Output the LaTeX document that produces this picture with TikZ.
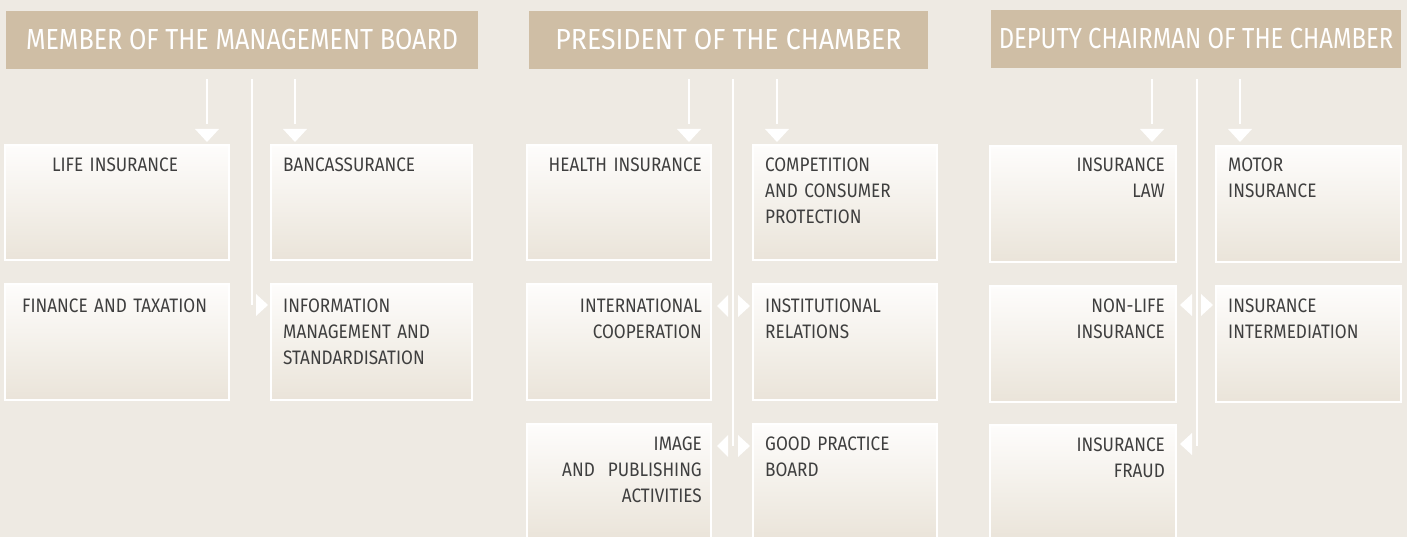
\documentclass[tikz,border=0pt]{standalone}
\usepackage{fontspec}
\setmainfont{Fira Sans}
\newfontfamily\bodyfont[FakeStretch=0.88]{Fira Sans}
\newfontfamily\headfont[FakeStretch=0.88]{Fira Sans}
\usetikzlibrary{calc}
\definecolor{bg}{HTML}{EEEAE3}
\definecolor{hdr}{HTML}{CFBEA5}
\definecolor{txt}{HTML}{3F3F3F}
\definecolor{sA}{HTML}{E2D9CB}
\definecolor{sB}{HTML}{E6DED2}
\definecolor{sC}{HTML}{EEE9E0}
\definecolor{sD}{HTML}{F6F3EE}
\definecolor{sE}{HTML}{FEFDFC}
\definecolor{sF}{HTML}{F3EFE8}
\definecolor{sG}{HTML}{E3DBCE}
\pgfdeclareverticalshading{boxshade}{100bp}{color(0bp)=(sA); color(15bp)=(sB); color(35bp)=(sC); color(55bp)=(sD); color(75bp)=(sE); color(82bp)=(white); color(92bp)=(sF); color(100bp)=(sG)}
\tikzset{
  unitbox/.style={draw=white, line width=2pt, shading=boxshade, inner sep=0pt, outer sep=0pt},
  hdrbox/.style={fill=hdr, inner sep=0pt, text=white, font=\headfont\fontsize{29}{34}\selectfont},
  ltxt/.style={anchor=base west, text width=190pt, align=left, inner sep=0pt, text=txt, font=\bodyfont\fontsize{19.5}{26}\selectfont},
  rtxt/.style={anchor=base east, text width=190pt, align=right, inner sep=0pt, text=txt, font=\bodyfont\fontsize{19.5}{26}\selectfont},
  ctxt/.style={anchor=base, text width=200pt, align=center, inner sep=0pt, text=txt, font=\bodyfont\fontsize{19.5}{26}\selectfont},
  conn/.style={draw=white, line width=2.5pt},
  tip/.style={fill=white}
}
\newcommand\ubox[5]{\node[unitbox, minimum width={(#4-#2)*1pt}, minimum height={(#5-#3)*1pt}] (#1) at ({(#2+#4)/2},{(#3+#5)/2}) {};}
\newcommand\hbx[6]{\node[hdrbox, minimum width={(#4-#2)*1pt}, minimum height={(#5-#3)*1pt}] (#1) at ({(#2+#4)/2},{(#3+#5)/2}) {#6};}
\begin{document}
\begin{tikzpicture}[x=1pt,y=-1pt]
\useasboundingbox (0,0) rectangle (1407,537);
\clip (0,0) rectangle (1407,537);
\fill[bg] (0,0) rectangle (1407,537);

% headers
\hbx{h1}{6}{11}{478}{69}{\scalebox{0.984}[1]{MEMBER OF THE MANAGEMENT BOARD}}
\hbx{h2}{529}{11}{928}{69}{\scalebox{1.045}[1]{PRESIDENT OF THE CHAMBER}}
\hbx{h3}{991}{10}{1401}{68}{\scalebox{0.934}[1]{DEPUTY CHAIRMAN OF THE CHAMBER}}

% column 1 boxes
\ubox{a1}{5}{145}{229}{260}
\ubox{b1}{271}{145}{472}{260}
\ubox{a2}{5}{284}{229}{400}
\ubox{b2}{271}{284}{472}{400}
% column 2 boxes
\ubox{c1}{527}{145}{711}{260}
\ubox{d1}{753}{145}{937}{260}
\ubox{c2}{527}{284}{711}{400}
\ubox{d2}{753}{284}{937}{400}
\ubox{c3}{527}{424}{711}{540}
\ubox{d3}{753}{424}{937}{540}
% column 3 boxes
\ubox{e1}{990}{146}{1176}{262}
\ubox{f1}{1216}{146}{1401}{262}
\ubox{e2}{990}{286}{1176}{402}
\ubox{f2}{1216}{286}{1401}{402}
\ubox{e3}{990}{425}{1176}{541}

% texts
\node[ctxt] (ta1) at (115,172) {LIFE INSURANCE};
\node[ltxt] (tb1) at (283,172) {BANCASSURANCE};
\node[ltxt] (ta2) at (22,312) {FINANCE AND TAXATION};
\node[ltxt] (tb2) at (283,312) {INFORMATION\\MANAGEMENT AND\\STANDARDISATION};
\node[rtxt] (tc1) at (702,172) {HEALTH INSURANCE};
\node[ltxt] (td1) at (765,172) {COMPETITION\\AND CONSUMER\\PROTECTION};
\node[rtxt] (tc2) at (702,312) {INTERNATIONAL\\COOPERATION};
\node[ltxt] (td2) at (765,312) {INSTITUTIONAL\\RELATIONS};
\node[rtxt] (tc3) at (702,450) {IMAGE\\AND\ \ PUBLISHING\\ACTIVITIES};
\node[ltxt] (td3) at (765,450) {GOOD PRACTICE\\BOARD};
\node[rtxt] (te1) at (1165,172) {INSURANCE\\LAW};
\node[ltxt] (tf1) at (1228,172) {MOTOR\\INSURANCE};
\node[rtxt] (te2) at (1165,312) {NON-LIFE\\INSURANCE};
\node[ltxt] (tf2) at (1228,312) {INSURANCE\\INTERMEDIATION};
\node[rtxt] (te3) at (1165,451) {INSURANCE\\FRAUD};

% connector end points
\foreach \n/\x in {p1/207, q1/295, p2/689, q2/777, p3/1152, q3/1240} {
  \coordinate (\n s) at (\x,79);
  \coordinate (\n e) at (\x,124);
}
\coordinate (m1s) at (252,79); \coordinate (m1e) at (252,305);
\coordinate (m2s) at (733,79); \coordinate (m2e) at (733,446);
\coordinate (m3s) at (1197,79); \coordinate (m3e) at (1197,446);

% down connectors with triangular heads
\foreach \n in {p1,q1,p2,q2,p3,q3} {
  \draw[conn] (\n s) -- (\n e);
  \fill[tip] ($(\n e)+(-12,5)$) -- ($(\n e)+(12,5)$) -- ($(\n e)+(0,18)$) -- cycle;
}
% central spines
\draw[conn] (m1s) -- (m1e);
\draw[conn] (m2s) -- (m2e);
\draw[conn] (m3s) -- (m3e);

% side heads
% column 1
\fill[tip] (256,294) -- (256,316) -- (268,305) -- cycle;
% column 2
\fill[tip] (728,295) -- (728,317) -- (717,306) -- cycle;
\fill[tip] (738,295) -- (738,317) -- (750,306) -- cycle;
\fill[tip] (728,435) -- (728,457) -- (717,446) -- cycle;
\fill[tip] (738,435) -- (738,457) -- (750,446) -- cycle;
% column 3
\fill[tip] (1192,294) -- (1192,316) -- (1180,305) -- cycle;
\fill[tip] (1201,294) -- (1201,316) -- (1213,305) -- cycle;
\fill[tip] (1192,433) -- (1192,455) -- (1180,444) -- cycle;
\end{tikzpicture}
\end{document}
